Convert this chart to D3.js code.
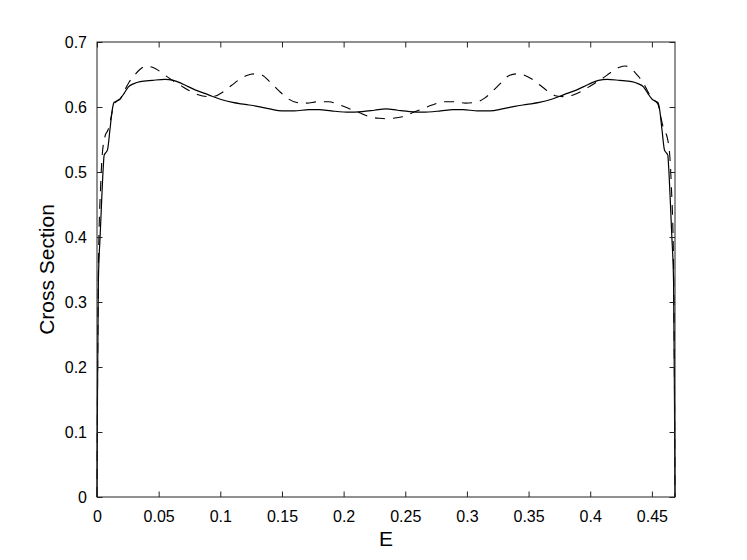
<!DOCTYPE html>
<html>
<head>
<meta charset="utf-8">
<script src="https://cdn.jsdelivr.net/npm/d3@7"></script>
<style>
  html, body { margin: 0; padding: 0; background: #fff; }
  svg { display: block; }
  text { font-family: "Liberation Sans", Arial, Helvetica, sans-serif; fill: #000; }
</style>
</head>
<body>
<svg id="chart" width="747" height="560"></svg>
<script>
// ---- Data ----
const xTicks = [0, 0.05, 0.1, 0.15, 0.2, 0.25, 0.3, 0.35, 0.4, 0.45];
const xTickLabels = ["0", "0.05", "0.1", "0.15", "0.2", "0.25", "0.3", "0.35", "0.4", "0.45"];
const yTicks = [0, 0.1, 0.2, 0.3, 0.4, 0.5, 0.6, 0.7];
const yTickLabels = ["0", "0.1", "0.2", "0.3", "0.4", "0.5", "0.6", "0.7"];
const xDomain = [0, 0.46875];
const yDomain = [0, 0.7];
const xLabel = "E";
const yLabel = "Cross Section";

// solid series
const solidE = [0, 0.0004, 0.0011, 0.0025, 0.0038, 0.0051, 0.0058, 0.0072, 0.0085, 0.0105, 0.0125, 0.0138,
  0.016, 0.0185, 0.022, 0.0255, 0.030, 0.035, 0.045, 0.055, 0.062, 0.070, 0.080, 0.090, 0.100, 0.110,
  0.120, 0.130, 0.140, 0.150, 0.160, 0.172, 0.180, 0.190, 0.205, 0.215, 0.225, 0.234375,
  0.2437, 0.2537, 0.2637, 0.2787, 0.2887, 0.2967, 0.3087, 0.3187, 0.3287, 0.3387, 0.3487, 0.3587,
  0.3687, 0.3787, 0.3887, 0.3987, 0.4067, 0.4137, 0.4237, 0.4337, 0.4387, 0.4432, 0.4467, 0.4502,
  0.4527, 0.4549, 0.4562, 0.4582, 0.4602, 0.4615, 0.4629, 0.4636, 0.4649, 0.4662, 0.4676, 0.4683, 0.46875];
const solidCS = [0, 0.16, 0.33, 0.40, 0.457, 0.508, 0.526, 0.530, 0.534, 0.565, 0.597, 0.607,
  0.609, 0.612, 0.621, 0.631, 0.636, 0.639, 0.641, 0.6425, 0.641, 0.635, 0.626, 0.619, 0.612, 0.607,
  0.604, 0.601, 0.597, 0.594, 0.594, 0.596, 0.596, 0.594, 0.592, 0.593, 0.595, 0.597,
  0.595, 0.593, 0.592, 0.594, 0.596, 0.596, 0.594, 0.594, 0.597, 0.601, 0.604, 0.607,
  0.612, 0.619, 0.626, 0.635, 0.641, 0.6425, 0.641, 0.639, 0.636, 0.631, 0.621, 0.612,
  0.609, 0.607, 0.597, 0.565, 0.534, 0.530, 0.526, 0.508, 0.457, 0.40, 0.33, 0.16, 0];

// dashed series
const dashedE = [0, 0.0005, 0.0012, 0.003, 0.004, 0.0065, 0.009, 0.0115, 0.0135, 0.016, 0.019, 0.022,
  0.026, 0.030, 0.035, 0.040, 0.045, 0.050, 0.055, 0.062, 0.068, 0.075, 0.082, 0.090, 0.096, 0.102,
  0.109, 0.116, 0.122, 0.128, 0.134, 0.140, 0.147, 0.154, 0.162, 0.170, 0.179, 0.188, 0.197, 0.205,
  0.213, 0.221, 0.229, 0.234375,
  0.2395, 0.2477, 0.2557, 0.2637, 0.2717, 0.2807, 0.2897, 0.2987, 0.3067, 0.3147, 0.3217, 0.3287,
  0.3347, 0.3407, 0.3467, 0.3527, 0.3597, 0.3667, 0.3727, 0.3787, 0.3867, 0.3937, 0.4007, 0.4067,
  0.4137, 0.4187, 0.4237, 0.4287, 0.4337, 0.4387, 0.4427, 0.4467, 0.4497, 0.4527, 0.4552, 0.4572,
  0.4597, 0.4622, 0.4647, 0.46575, 0.46755, 0.46825, 0.46875];
const dashedCS = [0, 0.2, 0.36, 0.48, 0.52, 0.555, 0.565, 0.585, 0.603, 0.609, 0.613, 0.624,
  0.638, 0.648, 0.658, 0.663, 0.661, 0.656, 0.649, 0.640, 0.633, 0.625, 0.619, 0.616, 0.617, 0.623,
  0.633, 0.643, 0.649, 0.651, 0.649, 0.639, 0.626, 0.614, 0.607, 0.606, 0.608, 0.608, 0.603, 0.597,
  0.591, 0.585, 0.5826, 0.582,
  0.5826, 0.585, 0.591, 0.597, 0.603, 0.608, 0.608, 0.606, 0.607, 0.614, 0.626, 0.639,
  0.649, 0.651, 0.649, 0.643, 0.633, 0.623, 0.617, 0.616, 0.619, 0.625, 0.633, 0.640,
  0.649, 0.656, 0.661, 0.663, 0.658, 0.648, 0.638, 0.624, 0.613, 0.609, 0.603, 0.585,
  0.565, 0.555, 0.52, 0.48, 0.36, 0.2, 0];

// ---- Layout ----
const mL = 97, mR = 675, mT = 42, mB = 497;
const tickLen = 5.5;

const svg = d3.select("#chart");
const x = d3.scaleLinear().domain(xDomain).range([mL, mR]);
const y = d3.scaleLinear().domain(yDomain).range([mB, mT]);

svg.append("clipPath").attr("id", "clip")
  .append("rect").attr("x", mL - 1).attr("y", mT).attr("width", mR - mL + 2).attr("height", mB - mT);

const line = d3.line().x(d => x(d[0])).y(d => y(d[1])).curve(d3.curveMonotoneX);

const solid = solidE.map((e, i) => [e, solidCS[i]]);
const dashed = dashedE.map((e, i) => [e, dashedCS[i]]);

const plot = svg.append("g").attr("clip-path", "url(#clip)");
plot.append("path").datum(dashed).attr("d", line)
  .attr("fill", "none").attr("stroke", "#000").attr("stroke-width", 1.1)
  .attr("stroke-dasharray", "10,8");
plot.append("path").datum(solid).attr("d", line)
  .attr("fill", "none").attr("stroke", "#000").attr("stroke-width", 1.2);

const axStroke = "#222";
const fmtX = (d, i) => xTickLabels[i];
const fmtY = (d, i) => yTickLabels[i];

const gB = svg.append("g").attr("transform", `translate(0,${mB})`)
  .call(d3.axisBottom(x).tickValues(xTicks).tickFormat(fmtX).tickSizeInner(-tickLen).tickSizeOuter(0).tickPadding(14));
const gT = svg.append("g").attr("transform", `translate(0,${mT})`)
  .call(d3.axisTop(x).tickValues(xTicks).tickFormat("").tickSizeInner(-tickLen).tickSizeOuter(0));
const gL = svg.append("g").attr("transform", `translate(${mL},0)`)
  .call(d3.axisLeft(y).tickValues(yTicks).tickFormat(fmtY).tickSizeInner(-tickLen).tickSizeOuter(0).tickPadding(10));
const gR = svg.append("g").attr("transform", `translate(${mR},0)`)
  .call(d3.axisRight(y).tickValues(yTicks).tickFormat("").tickSizeInner(-tickLen).tickSizeOuter(0));

[gB, gT, gL, gR].forEach(g => {
  g.selectAll(".domain").remove();
  g.selectAll(".tick line").attr("stroke", axStroke).attr("stroke-width", 1);
  g.selectAll("text").style("font-family", '"Liberation Sans", Arial, sans-serif')
    .style("font-size", "16px").attr("fill", "#000");
});
svg.append("rect").attr("x", mL).attr("y", mT).attr("width", mR - mL).attr("height", mB - mT)
  .attr("fill", "none").attr("stroke", axStroke).attr("stroke-width", 1);

svg.append("text").attr("x", (mL + mR) / 2).attr("y", 546)
  .attr("text-anchor", "middle").style("font-size", "21px").text(xLabel);
svg.append("text").attr("transform", `translate(54,${(mT + mB) / 2}) rotate(-90)`)
  .attr("text-anchor", "middle").style("font-size", "21px").text(yLabel);
</script>
</body>
</html>
